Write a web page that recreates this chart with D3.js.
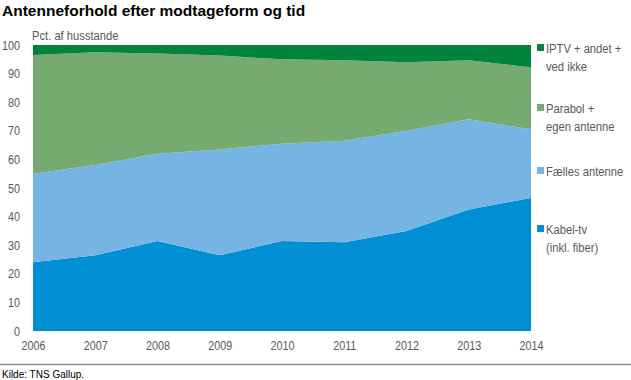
<!DOCTYPE html>
<html><head><meta charset="utf-8">
<script src="https://cdn.jsdelivr.net/npm/d3@7"></script>
<style>body{margin:0;background:#fff;} svg{display:block;font-family:"Liberation Sans",Arial,sans-serif;}</style>
</head><body>
<script>
const years = [2006,2007,2008,2009,2010,2011,2012,2013,2014];
const kabel = [24,26.5,31.5,26.5,31.5,31,35,42.5,46.5];
const faelles = [31,31.5,30.5,37,34,35.5,35,31.5,24];
const parabol = [41.5,39.5,35,32.8,29.5,28.2,24,20.7,21.7];
const iptv = [3.5,2.5,3,3.7,5,5.3,6,5.3,7.8];
const yTicks = [0,10,20,30,40,50,60,70,80,90,100];
const legendLines = [["Kabel-tv","(inkl. fiber)"],["Fælles antenne"],["Parabol +","egen antenne"],["IPTV + andet +","ved ikke"]];
const colors = ["#008fd5","#75b4e3","#77aa71","#00843d"];

const W=631,H=380;
const SX=0.83; // horizontal condense to mimic a narrow face
const svg=d3.select("body").append("svg").attr("width",W).attr("height",H);
const x=d3.scaleLinear().domain([2006,2014]).range([33,531]);
const y=d3.scaleLinear().domain([0,100]).range([331,45]);

const table=years.map((yr,i)=>({year:yr,k:kabel[i],f:faelles[i],p:parabol[i],t:iptv[i]}));
const stack=d3.stack().keys(["k","f","p","t"])(table);
const area=d3.area().x(d=>x(d.data.year)).y0(d=>y(d[0])).y1(d=>y(Math.min(100,d[1])));
svg.append("g").selectAll("path").data(stack).join("path")
  .attr("d",area).attr("fill",(d,i)=>colors[i]);

// Title
svg.append("text").attr("x",2).attr("y",16).attr("font-size",15.5).attr("font-weight","bold").attr("fill","#000")
  .text("Antenneforhold efter modtageform og tid");
svg.append("g").attr("transform","translate(32,40)").append("text")
  .attr("transform",`scale(${SX},1)`).attr("font-size",13.5).attr("fill","#595959").text("Pct. af husstande");

// y axis
const yAxis=d3.axisLeft(y).tickValues(yTicks).tickSize(0).tickPadding(0);
const gy=svg.append("g").attr("transform","translate(20,0)").call(yAxis);
gy.select(".domain").remove();
gy.selectAll("text").attr("font-size",13).attr("fill","#595959").attr("font-family","Liberation Sans, Arial, sans-serif")
  .attr("transform",`scale(${SX},1)`);

// x axis
const xAxis=d3.axisBottom(x).tickValues(years).tickFormat(d3.format("d")).tickSize(0).tickPadding(0);
const gx=svg.append("g").attr("transform","translate(0,340.5)").call(xAxis);
gx.select(".domain").remove();
gx.selectAll("text").attr("font-size",13).attr("fill","#595959").attr("font-family","Liberation Sans, Arial, sans-serif")
  .attr("transform",`scale(${SX},1)`);

// separator line
svg.append("line").attr("x1",0).attr("x2",W).attr("y1",364.5).attr("y2",364.5).attr("stroke","#8c9190").attr("stroke-width",1.5);
svg.append("text").attr("x",2).attr("y",378).attr("font-size",10).attr("fill","#000").text("Kilde: TNS Gallup.");

// legend
const legY=[229,171,108,48];
const lg=svg.append("g");
legendLines.forEach((lines,i)=>{
  lg.append("rect").attr("x",537).attr("y",legY[i]-4).attr("width",7).attr("height",7).attr("fill",colors[i]);
  lines.forEach((ln,j)=>{
    lg.append("g").attr("transform",`translate(546,${legY[i]+5+j*18})`).append("text")
      .attr("transform",`scale(${SX},1)`).attr("font-size",13.5).attr("fill","#595959").text(ln);
  });
});
</script>
</body></html>
